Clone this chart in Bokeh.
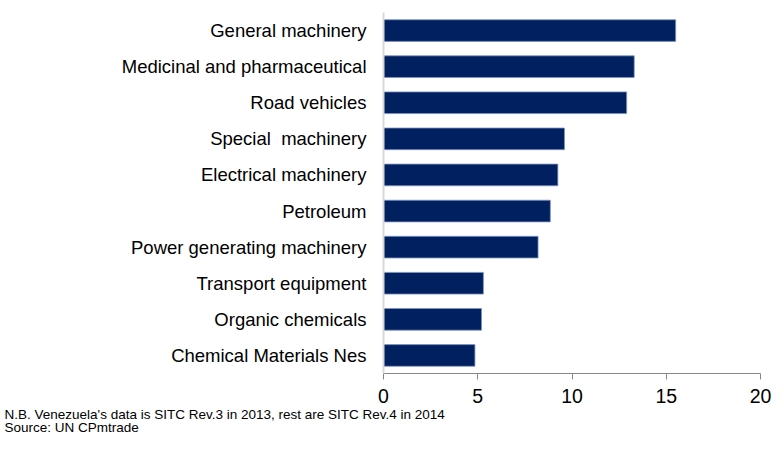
from bokeh.plotting import figure
from bokeh.models import Title, FixedTicker, Range1d
from bokeh.embed import file_html
from bokeh.resources import INLINE

categories = ["General machinery", "Medicinal and pharmaceutical", "Road vehicles",
              "Special\u00a0 machinery", "Electrical machinery", "Petroleum",
              "Power generating machinery", "Transport equipment", "Organic chemicals",
              "Chemical Materials Nes"]
values = [15.5, 13.3, 12.9, 9.6, 9.25, 8.85, 8.2, 5.3, 5.2, 4.85]
x_ticks = [0, 5, 10, 15, 20]
footnote_lines = ["N.B. Venezuela's data is SITC Rev.3 in 2013, rest are SITC Rev.4 in 2014",
                  "Source: UN CPmtrade"]

FONT = "Liberation Sans"

p = figure(width=774, height=450, y_range=list(reversed(categories)),
           x_range=Range1d(0, 20), output_backend="svg", toolbar_location=None,
           min_border_left=383, min_border_right=14, min_border_top=12,
           min_border_bottom=77)
p.hbar(y=categories, right=values, left=0, height=0.6,
       fill_color="#002060", line_color="#7f93bf", line_width=0.8)

p.grid.visible = False
p.outline_line_color = None

p.yaxis.axis_line_color = "#d9d9d9"
p.yaxis.axis_line_width = 2
p.yaxis.major_tick_line_color = None
p.yaxis.minor_tick_line_color = None
p.yaxis.major_label_text_font = FONT
p.yaxis.major_label_text_font_size = "18.5px"
p.yaxis.major_label_text_color = "#000000"
p.yaxis.major_label_standoff = 11

p.xaxis.ticker = FixedTicker(ticks=x_ticks)
p.xaxis.axis_line_color = "#888888"
p.xaxis.major_tick_line_color = "#888888"
p.xaxis.major_tick_in = 0
p.xaxis.major_tick_out = 6
p.xaxis.minor_tick_line_color = None
p.xaxis.major_label_text_font = FONT
p.xaxis.major_label_text_font_size = "19.5px"
p.xaxis.major_label_text_color = "#000000"
p.xaxis.major_label_standoff = 9

p.add_layout(Title(text="\n".join(footnote_lines), align="left", offset=-379, standoff=0,
                   text_font=FONT, text_font_size="13.5px", text_font_style="normal",
                   text_color="#000000", text_line_height=0.88), "below")

open("out.html", "w").write(file_html(p, INLINE))
